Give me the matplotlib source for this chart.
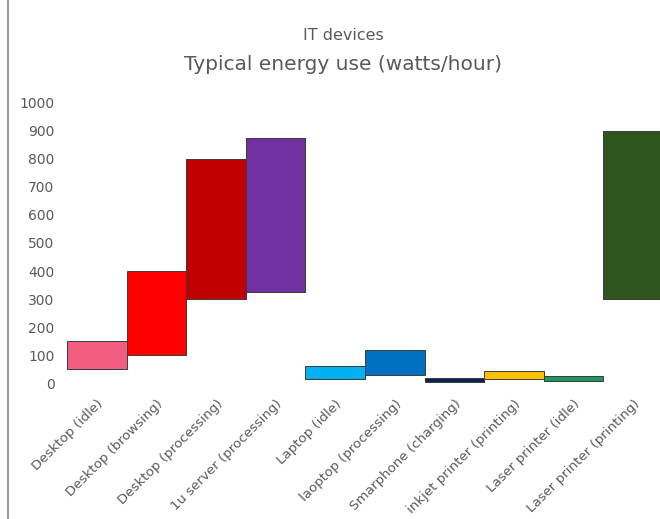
import matplotlib.pyplot as plt
from matplotlib.lines import Line2D

devices = ["Desktop (idle)", "Desktop (browsing)", "Desktop (processing)",
           "1u server (processing)", "Laptop (idle)", "laoptop (processing)",
           "Smarphone (charging)", "inkjet printer (printing)",
           "Laser printer (idle)", "Laser printer (printing)"]
low = [50, 100, 300, 325, 15, 28, 5, 15, 8, 300]
high = [150, 400, 800, 875, 60, 120, 20, 45, 25, 900]
colors = ["#F25C7E", "#FF0000", "#C00000", "#7030A0", "#00B0F0",
          "#0070C0", "#102050", "#FFC000", "#21975F", "#2E561E"]

fig = plt.figure(figsize=(6.6, 5.19), dpi=100)
ax = fig.add_axes([67 / 660, 1 - 383.3 / 519, (663 - 67) / 660, (383.3 - 102.7) / 519])

x = range(len(devices))
heights = [h - l for l, h in zip(low, high)]
ax.bar(x, heights, bottom=low, width=1.0, color=colors,
       edgecolor="#3a3a3a", linewidth=0.7)

ax.set_xlim(-0.5, len(devices) - 0.5)
ax.set_ylim(0, 1000)
ax.set_yticks(range(0, 1001, 100))
for s in ax.spines.values():
    s.set_visible(False)
ax.tick_params(axis="both", length=0, colors="#595959")
ax.tick_params(axis="y", pad=9, labelsize=10)
ax.tick_params(axis="x", pad=10, labelsize=9.6)
ax.set_xticks(list(x))
ax.set_xticklabels(devices, rotation=45, ha="right", rotation_mode="anchor")

fig.text(343 / 660, 1 - 35 / 519, "IT devices", ha="center", va="center",
         fontsize=11.5, color="#595959")
fig.text(343 / 660, 1 - 65 / 519, "Typical energy use (watts/hour)",
         ha="center", va="center", fontsize=14.5, color="#595959")

fig.add_artist(Line2D([8 / 660, 8 / 660], [0, 1], color="#9a9a9a", linewidth=1.5))

fig.savefig("out.png", dpi=100)
